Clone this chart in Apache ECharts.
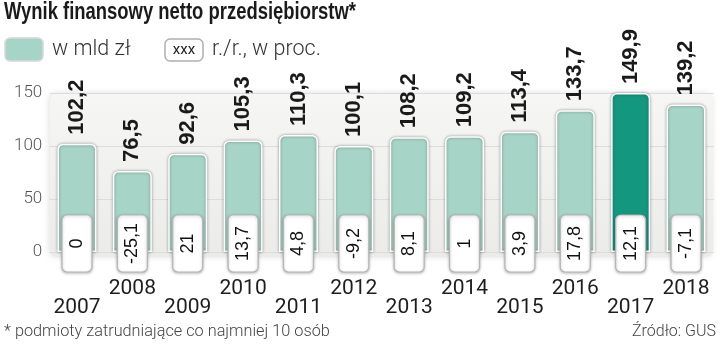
<!DOCTYPE html>
<html>
<head>
<meta charset="utf-8">
<script src="https://cdn.jsdelivr.net/npm/echarts@6/dist/echarts.min.js"></script>
<style>html,body{margin:0;padding:0;background:#fff;}#c{width:720px;height:345px;}</style>
</head>
<body>
<div id="c"></div>
<script>
const years = ['2007','2008','2009','2010','2011','2012','2013','2014','2015','2016','2017','2018'];
const netResult = [102.2, 76.5, 92.6, 105.3, 110.3, 100.1, 108.2, 109.2, 113.4, 133.7, 149.9, 139.2];
const yoyChange = [0, -25.1, 21, 13.7, 4.8, -9.2, 8.1, 1, 3.9, 17.8, 12.1, -7.1];
const yTicks = [0, 50, 100, 150];
const highlightYear = '2017';

const titleText = 'Wynik finansowy netto przedsiębiorstw*';
const legendBar = 'w mld zł';
const legendBox = 'r./r., w proc.';
const footnote = '* podmioty zatrudniające co najmniej 10 osób';
const source = 'Źródło: GUS';

const fmt = v => String(v).replace('.', ',');
const LIGHT = '#a6d4c6', DARK = '#14977f';

// condense the bold title to the reference width
const TITLE_FONT = 'bold 23px "Liberation Sans"';
const ctx = document.createElement('canvas').getContext('2d');
ctx.font = TITLE_FONT;
const titleScale = 352 / ctx.measureText(titleText).width;

const chart = echarts.init(document.getElementById('c'));
chart.setOption({
  animation: false,
  grid: { left: 49.3, right: 6.3, top: 93, bottom: 93 },
  graphic: [
    { type: 'rect', z: -10, shape: { x: 50, y: 93, width: 663, height: 164, r: 7 },
      style: { fill: new echarts.graphic.LinearGradient(0, 0, 0, 1, [{offset:0,color:'#f6f6f5'},{offset:1,color:'#ebebea'}]),
               shadowBlur: 6, shadowColor: 'rgba(0,0,0,0.12)', shadowOffsetX: -1 } },
    { type: 'text', x: 4, y: 13, scaleX: titleScale,
      style: { text: titleText, font: TITLE_FONT, fill: '#1a1a1a', verticalAlign: 'middle' } },
    { type: 'rect', shape: { x: 5, y: 38, width: 38, height: 23, r: 5 },
      style: { fill: LIGHT, stroke: '#d8d8d8', lineWidth: 1.5 } },
    { type: 'text', x: 52, y: 50, style: { text: legendBar, fontFamily: 'Roboto', fontWeight: 300, fontSize: 21.5, fill: '#333', verticalAlign: 'middle' } },
    { type: 'rect', shape: { x: 165, y: 39, width: 38, height: 22, r: 5 },
      style: { fill: '#fff', stroke: '#b0b0b0', lineWidth: 1.5 } },
    { type: 'text', x: 184, y: 50, style: { text: 'xxx', fontFamily: 'Roboto', fontSize: 15, fill: '#222', align: 'center', verticalAlign: 'middle' } },
    { type: 'text', x: 212, y: 50, style: { text: legendBox, fontFamily: 'Roboto', fontWeight: 300, fontSize: 21.5, fill: '#333', verticalAlign: 'middle' } },
    { type: 'text', x: 4, y: 332, style: { text: footnote, fontFamily: 'Roboto', fontWeight: 300, fontSize: 16.3, fill: '#444', verticalAlign: 'middle' } },
    { type: 'text', x: 716, y: 332, style: { text: source, fontFamily: 'Roboto', fontWeight: 300, fontSize: 16, fill: '#444', align: 'right', verticalAlign: 'middle' } }
  ],
  xAxis: {
    type: 'category', data: years,
    axisLine: { show: false }, axisTick: { show: false },
    axisLabel: {
      interval: 0, margin: 37, lineHeight: 19, verticalAlign: 'middle',
      fontFamily: 'Roboto', fontSize: 21, color: '#1e1e1e',
      formatter: (v, i) => (i % 2 === 0 ? '\n\n' + v : v)
    }
  },
  yAxis: {
    type: 'value', min: yTicks[0], max: yTicks[yTicks.length - 1], interval: 50,
    axisLine: { show: false }, axisTick: { show: false },
    axisLabel: { margin: 7, fontFamily: 'Roboto', fontWeight: 300, fontSize: 17, color: '#555' },
    splitLine: { lineStyle: { color: '#dcdcdc', width: 1 } }
  },
  series: [
    {
      type: 'bar', barWidth: 39, z: 2,
      data: netResult.map((v, i) => ({
        value: v,
        itemStyle: { color: years[i] === highlightYear ? DARK : LIGHT }
      })),
      itemStyle: { borderRadius: [5, 5, 0, 0], borderColor: '#ffffff', borderWidth: 1.5,
                   shadowBlur: 3, shadowColor: 'rgba(0,0,0,0.35)' },
      label: {
        show: true, position: 'top', distance: 9, rotate: 90, align: 'left', verticalAlign: 'middle',
        formatter: p => fmt(p.value),
        fontFamily: 'Liberation Sans', fontWeight: 'bold', fontSize: 22, color: '#1a1a1a'
      }
    },
    {
      type: 'custom', z: 5,
      data: yoyChange.map((v, i) => [i, v]),
      renderItem: (params, api) => {
        const p = api.coord([api.value(0), 0]);
        const x = p[0], y0 = p[1];
        return {
          type: 'group',
          children: [
            { type: 'rect', shape: { x: x - 15, y: y0 - 37, width: 30, height: 57, r: 5 },
              style: { fill: '#fff', stroke: '#b5b5b5', lineWidth: 1.2, shadowBlur: 3, shadowColor: 'rgba(0,0,0,0.25)', shadowOffsetY: 1 } },
            { type: 'text', x: x, y: y0 - 8.5, rotation: Math.PI / 2,
              style: { text: fmt(api.value(1)), align: 'center', verticalAlign: 'middle',
                       fontFamily: 'Liberation Sans', fontSize: 18, fill: '#111' } }
          ]
        };
      }
    }
  ]
});
</script>
</body>
</html>
